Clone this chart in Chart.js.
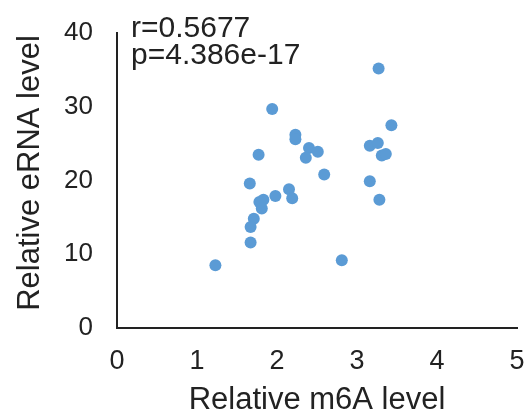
<!DOCTYPE html>
<html>
<head>
<meta charset="utf-8">
<script src="https://cdn.jsdelivr.net/npm/chart.js@4"></script>
<style>
    html, body { margin: 0; padding: 0; background: #fff; }
    #wrap { width: 530px; height: 414px; }
</style>
</head>
<body>
<div id="wrap"><canvas id="scatterChart"></canvas></div>
<script>
// m6A vs eRNA measurements, one entry per sample
const m6aLevels = [3.27, 1.94, 3.43, 2.23, 2.23, 3.16, 3.26, 2.40, 2.51, 2.36, 1.77, 3.31, 3.36, 2.59,
    1.66, 3.16, 2.15, 1.98, 2.19, 1.83, 1.78, 1.81, 3.28, 1.71, 1.67, 1.67, 1.23, 2.81];
const ernaLevels = [35.2, 29.7, 27.5, 26.2, 25.6, 24.7, 25.1, 24.4, 23.9, 23.1, 23.5, 23.4, 23.6, 20.8,
    19.6, 19.9, 18.8, 17.9, 17.6, 17.4, 17.1, 16.2, 17.4, 14.8, 13.7, 11.6, 8.5, 9.2];
const xTicks = [0, 1, 2, 3, 4, 5];
const yTicks = [0, 10, 20, 30, 40];
const statLines = ['r=0.5677', 'p=4.386e-17'];
const yTitle = 'Relative eRNA level';

const textColor = '#222222';
const fontFamily = 'Arial, "Liberation Sans", sans-serif';

const points = m6aLevels.map((x, i) => ({ x: x, y: ernaLevels[i] }));

// Correlation stats in the top-left corner, plus the rotated y-axis title
const labelsPlugin = {
    id: 'extraLabels',
    afterDraw(chart) {
        const ctx = chart.ctx;
        const area = chart.chartArea;
        ctx.save();
        ctx.fillStyle = textColor;
        ctx.font = '30px ' + fontFamily;
        ctx.textAlign = 'left';
        ctx.textBaseline = 'alphabetic';
        statLines.forEach((line, i) => {
            ctx.fillText(line, area.left + 14, area.top + 4 + i * 27);
        });

        ctx.font = '31px ' + fontFamily;
        ctx.textAlign = 'center';
        ctx.textBaseline = 'middle';
        ctx.translate(30, area.top + 140);
        ctx.rotate(-Math.PI / 2);
        ctx.fillText(yTitle, 0, 0);
        ctx.restore();
    }
};

const ctx = document.getElementById('scatterChart').getContext('2d');
const chart = new Chart(ctx, {
    type: 'scatter',
    data: {
        datasets: [{
            data: points,
            backgroundColor: '#5B9BD5',
            borderWidth: 0,
            pointRadius: 6,
            pointHoverRadius: 6
        }]
    },
    options: {
        responsive: true,
        maintainAspectRatio: false,
        animation: false,
        layout: { padding: { top: 33, right: 13, left: 0, bottom: 0 } },
        plugins: {
            legend: { display: false },
            tooltip: { enabled: false }
        },
        scales: {
            x: {
                type: 'linear',
                min: 0,
                max: 5,
                afterBuildTicks: axis => { axis.ticks = xTicks.map(v => ({ value: v })); },
                afterFit: axis => {
                    axis.height = 86;
                    // tick padding would otherwise widen the side margins
                    axis.paddingLeft = 0;
                    axis.paddingRight = 0;
                },
                grid: { display: false, drawTicks: false },
                border: { display: true, color: textColor, width: 2 },
                ticks: {
                    color: textColor,
                    padding: 17,
                    font: { size: 27, family: fontFamily }
                },
                title: {
                    display: true,
                    text: 'Relative m6A level',
                    color: textColor,
                    padding: { top: 0, bottom: 0 },
                    font: { size: 31, family: fontFamily, lineHeight: 0.9 }
                }
            },
            y: {
                type: 'linear',
                min: 0,
                max: 40,
                afterBuildTicks: axis => { axis.ticks = yTicks.map(v => ({ value: v })); },
                afterFit: axis => {
                    axis.width = 117;
                    axis.paddingTop = 0;
                    axis.paddingBottom = 0;
                },
                grid: { display: false, drawTicks: false },
                border: { display: true, color: textColor, width: 2 },
                ticks: {
                    color: textColor,
                    padding: 24,
                    font: { size: 26, family: fontFamily }
                },
                title: { display: false }
            }
        }
    },
    plugins: [labelsPlugin]
});
</script>
</body>
</html>
